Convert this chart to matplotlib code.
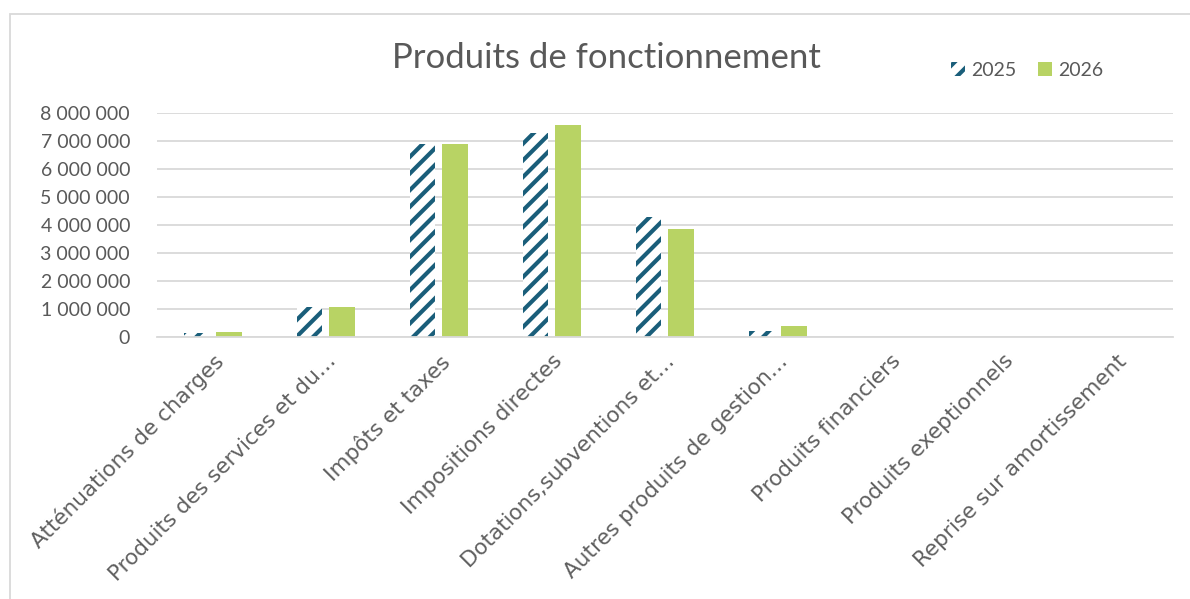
import matplotlib
matplotlib.use("Agg")
import matplotlib.pyplot as plt
from matplotlib.patches import Rectangle
from matplotlib.ticker import FuncFormatter
from matplotlib.font_manager import FontProperties
import numpy as np

categories = [
    "Atténuations de charges",
    "Produits des services et du…",
    "Impôts et taxes",
    "Impositions directes",
    "Dotations,subventions et…",
    "Autres produits de gestion…",
    "Produits financiers",
    "Produits exeptionnels",
    "Reprise sur amortissement",
]
values_2025 = [140000, 1060000, 6890000, 7270000, 4280000, 200000, 0, 0, 0]
values_2026 = [170000, 1060000, 6890000, 7560000, 3860000, 390000, 0, 0, 0]
series_labels = ["2025", "2026"]
y_ticks = [0, 1000000, 2000000, 3000000, 4000000, 5000000, 6000000, 7000000, 8000000]

plt.rcParams['font.family'] = ['Lato', 'DejaVu Sans']
plt.rcParams['hatch.linewidth'] = 3.0
plt.rcParams['hatch.color'] = '#1A5E7A'

W, H = 1190, 599
fig = plt.figure(figsize=(W / 100, H / 100), dpi=100)
fig.patch.set_facecolor('white')

# chart border
fig.add_artist(Rectangle((10 / W, -0.1), 1.2, (H - 14) / H + 0.1, transform=fig.transFigure,
                         fill=False, edgecolor='#D9D9D9', linewidth=1.3))

ax = fig.add_axes([156.5 / W, 1 - 337 / H, (1173 - 156.5) / W, (337 - 113) / H])
x = np.arange(len(categories))
bw = 0.225
off = 0.143
ax.bar(x - off, values_2025, bw, facecolor='white', edgecolor='#1A5E7A', hatch='//',
       linewidth=0, label=series_labels[0])
ax.bar(x + off, values_2026, bw, color='#B8D364', linewidth=0, label=series_labels[1])

ax.set_xlim(-0.5, len(categories) - 0.5)
ax.set_ylim(0, 8000000)
ax.set_yticks(y_ticks)
ax.yaxis.set_major_formatter(FuncFormatter(lambda v, p: f"{int(v):,}".replace(",", " ")))
ax.grid(axis='y', color='#D9D9D9', linewidth=1.3)
ax.set_axisbelow(True)
for s in ['top', 'right', 'left']:
    ax.spines[s].set_visible(False)
ax.spines['bottom'].set_color('#D9D9D9')
ax.spines['bottom'].set_linewidth(1.3)
ax.tick_params(axis='both', length=0, colors='#595959', labelsize=14)
ax.tick_params(axis='y', pad=19)
ax.tick_params(axis='x', pad=10)
ax.set_xticks(x)
ax.set_xticklabels(categories, rotation=45, ha='right', rotation_mode='anchor')
xfont = FontProperties(family='DejaVu Sans', size=15.5)
for lab in ax.get_xticklabels():
    lab.set_fontproperties(xfont)
    lab.set_color('#606060')

fig.text(606 / W, 1 - 58 / H, "Produits de fonctionnement", ha='center', va='center',
         fontsize=25, color='#595959')
leg = fig.legend(loc='center', bbox_to_anchor=(1027 / W, 1 - 70 / H), ncol=2, frameon=False,
                 fontsize=14, handlelength=0.75, handleheight=0.75, columnspacing=1.1,
                 handletextpad=0.3, labelcolor='#595959')

fig.savefig("out.png", dpi=100, facecolor='white')
